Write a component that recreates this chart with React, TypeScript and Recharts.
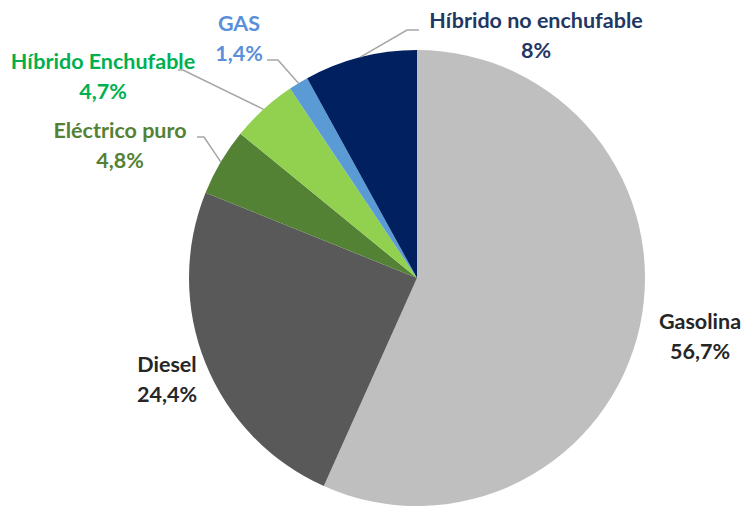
import { PieChart, Pie, Cell } from 'recharts';

const categories = [
  'Gasolina',
  'Diesel',
  'Eléctrico puro',
  'Híbrido Enchufable',
  'GAS',
  'Híbrido no enchufable',
];
const shares = [56.7, 24.4, 4.8, 4.7, 1.4, 8];
const sliceColors = ['#bfbfbf', '#595959', '#548235', '#92d050', '#5b9bd5', '#002060'];
const labelColors = ['#262626', '#262626', '#548235', '#00b050', '#5b8fd9', '#1f3864'];

const data = categories.map((name, i) => ({ name, value: shares[i] }));

// where each label sits (text centre, two lines) and the elbow of its leader line
const LABEL_LAYOUT: { x: number; y: number; line?: [number, number][] }[] = [
  { x: 700, y: 321 },
  { x: 167, y: 364 },
  { x: 120, y: 130, line: [[204, 137], [197, 137]] },
  { x: 103, y: 61, line: [[183, 70], [178, 70]] },
  { x: 239, y: 23, line: [[278, 60], [267, 60]] },
  { x: 536, y: 20, line: [[407, 30], [419, 30]] },
];

const RADIAN = Math.PI / 180;
const fmt = (v: number) => String(v).replace('.', ',') + '%';

const renderLabel = (props: any) => {
  const { cx, cy, midAngle, outerRadius, index, value, name } = props;
  const layout = LABEL_LAYOUT[index];
  const px = cx + outerRadius * Math.cos(-midAngle * RADIAN);
  const py = cy + outerRadius * Math.sin(-midAngle * RADIAN);
  const points = layout.line ? [[px, py], ...layout.line].map((p) => p.join(',')).join(' ') : null;
  const textProps = {
    x: layout.x,
    textAnchor: 'middle' as const,
    dominantBaseline: 'central' as const,
    fill: labelColors[index],
    fontSize: 21.5,
    fontWeight: 700,
    fontFamily: "Lato, 'Open Sans', sans-serif",
  };
  return (
    <g key={`label-${index}`}>
      {points && <polyline points={points} fill="none" stroke="#a6a6a6" strokeWidth={1.5} />}
      <text {...textProps} y={layout.y}>
        {name}
      </text>
      <text {...textProps} y={layout.y + 30}>
        {fmt(value)}
      </text>
    </g>
  );
};

export default function App() {
  return (
    <div style={{ position: 'absolute', left: 0, top: 0, width: 744, height: 508, background: '#fff' }}>
      <style>{`.recharts-pie-sectors { filter: drop-shadow(0 0 2px rgba(0,0,0,0.35)); }`}</style>
      <PieChart width={744} height={508} margin={{ top: 0, right: 0, bottom: 0, left: 0 }}>
        <Pie
          data={data}
          dataKey="value"
          nameKey="name"
          cx={417}
          cy={278}
          outerRadius={228}
          startAngle={90}
          endAngle={-270}
          stroke="none"
          label={renderLabel}
          labelLine={false}
          isAnimationActive={false}
        >
          {data.map((d, i) => (
            <Cell key={d.name} fill={sliceColors[i]} />
          ))}
        </Pie>
      </PieChart>
    </div>
  );
}
